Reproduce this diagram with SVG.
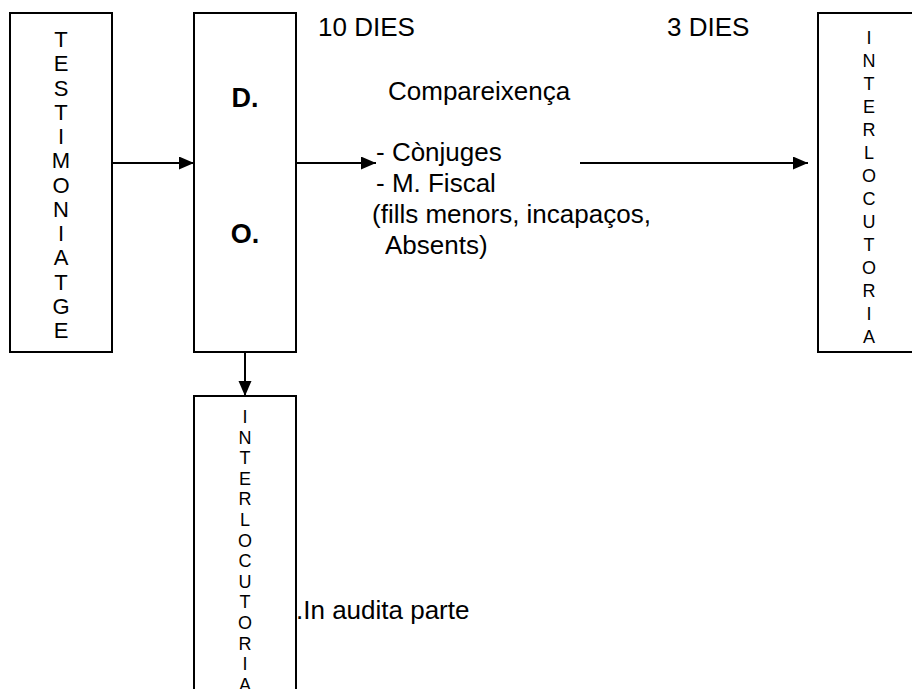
<svg xmlns="http://www.w3.org/2000/svg" width="912" height="689" viewBox="0 0 912 689">
<style>
.box{fill:#fff;stroke:#000;stroke-width:2}
.v{font-family:"Liberation Sans",Arial,sans-serif;font-size:22px;text-anchor:middle;fill:#000}
.vs{font-family:"Liberation Sans",Arial,sans-serif;font-size:18px;text-anchor:middle;fill:#000}
.t{font-family:"Liberation Sans",Arial,sans-serif;font-size:26px;fill:#000}
.b{font-family:"Liberation Sans",Arial,sans-serif;font-size:27px;font-weight:bold;text-anchor:middle;fill:#000}
.c{stroke:#000;stroke-width:2;fill:none}
</style>
<defs>
<marker id="ah" markerUnits="userSpaceOnUse" markerWidth="16" markerHeight="14" refX="15" refY="6.5" orient="auto">
<path d="M0,0 L15,6.5 L0,13 z" fill="#000"/>
</marker>
</defs>
<rect width="912" height="689" fill="#fff"/>
<g id="testimoniatge">
<rect class="box" x="10" y="13" width="102" height="339"/>
<text class="v" x="61" y="47">T</text>
<text class="v" x="61" y="71">E</text>
<text class="v" x="61" y="96">S</text>
<text class="v" x="61" y="120">T</text>
<text class="v" x="61" y="144">I</text>
<text class="v" x="61" y="168">M</text>
<text class="v" x="61" y="193">O</text>
<text class="v" x="61" y="217">N</text>
<text class="v" x="61" y="241">I</text>
<text class="v" x="61" y="265">A</text>
<text class="v" x="61" y="290">T</text>
<text class="v" x="61" y="314">G</text>
<text class="v" x="61" y="338">E</text>
</g>
<g id="do">
<rect class="box" x="194" y="13" width="102" height="339"/>
<text class="b" x="245" y="107">D.</text>
<text class="b" x="245" y="243">O.</text>
</g>
<g id="interlocutoria-right">
<rect class="box" x="818" y="13" width="102" height="339"/>
<text class="vs" x="869" y="44">I</text>
<text class="vs" x="869" y="67">N</text>
<text class="vs" x="869" y="90">T</text>
<text class="vs" x="869" y="113">E</text>
<text class="vs" x="869" y="136">R</text>
<text class="vs" x="869" y="159">L</text>
<text class="vs" x="869" y="182">O</text>
<text class="vs" x="869" y="205">C</text>
<text class="vs" x="869" y="228">U</text>
<text class="vs" x="869" y="251">T</text>
<text class="vs" x="869" y="274">O</text>
<text class="vs" x="869" y="297">R</text>
<text class="vs" x="869" y="320">I</text>
<text class="vs" x="869" y="343">A</text>
</g>
<g id="interlocutoria-bottom">
<rect class="box" x="194" y="396" width="102" height="339"/>
<text class="vs" x="245" y="423">I</text>
<text class="vs" x="245" y="444">N</text>
<text class="vs" x="245" y="464">T</text>
<text class="vs" x="245" y="485">E</text>
<text class="vs" x="245" y="505">R</text>
<text class="vs" x="245" y="526">L</text>
<text class="vs" x="245" y="547">O</text>
<text class="vs" x="245" y="567">C</text>
<text class="vs" x="245" y="588">U</text>
<text class="vs" x="245" y="608">T</text>
<text class="vs" x="245" y="629">O</text>
<text class="vs" x="245" y="650">R</text>
<text class="vs" x="245" y="670">I</text>
<text class="vs" x="245" y="691">A</text>
</g>
<g id="labels">
<text class="t" x="318" y="36">10 DIES</text>
<text class="t" x="667" y="36">3 DIES</text>
<text class="t" x="388" y="100">Compareixença</text>
<text class="t" x="376" y="161">- Cònjuges</text>
<text class="t" x="376" y="192">- M. Fiscal</text>
<text class="t" x="372" y="223">(fills menors, incapaços,</text>
<text class="t" x="372" y="254" xml:space="preserve">  Absents)</text>
<text class="t" x="296" y="619">.In audita parte</text>
</g>
<g id="connectors">
<line class="c" x1="112" y1="163" x2="194" y2="163" marker-end="url(#ah)"/>
<line class="c" x1="296" y1="163" x2="376" y2="163" marker-end="url(#ah)"/>
<line class="c" x1="580" y1="163" x2="808" y2="163" marker-end="url(#ah)"/>
<line class="c" x1="245" y1="352" x2="245" y2="396" marker-end="url(#ah)"/>
</g>
</svg>
